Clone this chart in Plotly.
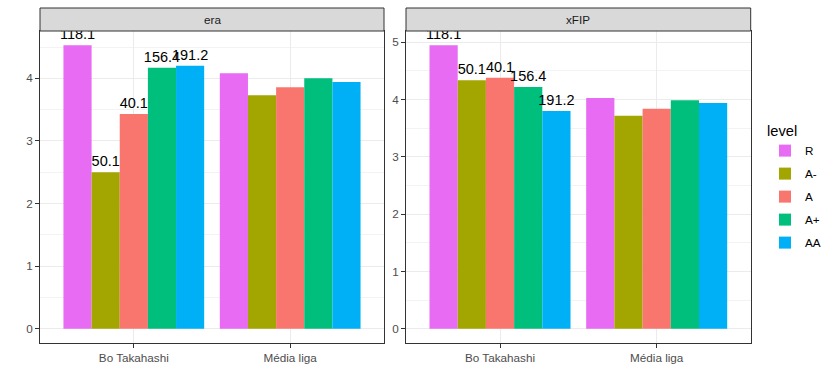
import plotly.graph_objects as go

players = ["Bo Takahashi", "Média liga"]
levels = ["R", "A-", "A", "A+", "AA"]
colors = ["#E76BF3", "#A3A500", "#F8766D", "#00BF7D", "#00B0F6"]
era_bo = [4.53, 2.50, 3.43, 4.17, 4.20]
era_liga = [4.08, 3.73, 3.86, 4.00, 3.94]
xfip_bo = [4.95, 4.34, 4.38, 4.22, 3.80]
xfip_liga = [4.03, 3.72, 3.84, 3.99, 3.94]
ip_bo = [118.1, 50.1, 40.1, 156.4, 191.2]
panels = ["era", "xFIP"]

W, H = 834, 388
FONT = "Liberation Sans, Arial, sans-serif"
fig = go.Figure()

for i, lv in enumerate(levels):
    for p, (bo, liga) in enumerate([(era_bo, era_liga), (xfip_bo, xfip_liga)]):
        fig.add_trace(go.Bar(
            x=players, y=[bo[i], liga[i]],
            name=lv, legendgroup=lv, showlegend=(p == 0),
            marker=dict(color=colors[i], line=dict(width=0)),
            text=[f"{ip_bo[i]:.1f}", ""], textposition="outside",
            textfont=dict(color="black", size=14.5, family=FONT),
            constraintext="none", cliponaxis=False,
            xaxis="x" if p == 0 else "x2", yaxis="y" if p == 0 else "y2",
        ))

def px(v, total):
    return v / total

xdom = [[px(40, W), px(384, W)], [px(406, W), px(750.7, W)]]
ydom = [1 - px(343, H), 1 - px(31, H)]
strip_top = 1 - px(8, H)
maxes = [max(era_bo + era_liga), max(xfip_bo + xfip_liga)]

axis_common = dict(
    showline=True, mirror=True, linecolor="#333333", linewidth=1,
    ticks="outside", ticklen=4, tickcolor="#333333", tickwidth=1,
    tickfont=dict(color="#4D4D4D", size=11.7, family=FONT),
    showgrid=True, gridcolor="#EBEBEB", gridwidth=1, zeroline=False,
)
for p in range(2):
    sx = "" if p == 0 else "2"
    fig.update_layout(**{
        f"xaxis{sx}": dict(domain=xdom[p], range=[-0.6, 1.6], type="category",
                           anchor=f"y{sx}", **axis_common),
        f"yaxis{sx}": dict(domain=ydom, anchor=f"x{sx}",
                           range=[-0.05 * maxes[p], 1.05 * maxes[p]], dtick=1,
                           minor=dict(dtick=0.5, showgrid=True, gridcolor="#F3F3F3", gridwidth=0.6),
                           **axis_common),
    })
    fig.add_shape(type="rect", xref="paper", yref="paper",
                  x0=xdom[p][0], x1=xdom[p][1], y0=ydom[1], y1=strip_top,
                  fillcolor="#D9D9D9", line=dict(color="#333333", width=1))
    fig.add_annotation(text=panels[p], xref="paper", yref="paper",
                       x=(xdom[p][0] + xdom[p][1]) / 2, y=(ydom[1] + strip_top) / 2,
                       xanchor="center", yanchor="middle",
                       showarrow=False, font=dict(color="#1A1A1A", size=11.7, family=FONT))

fig.update_layout(
    width=W, height=H, margin=dict(l=0, r=0, t=0, b=0),
    paper_bgcolor="white", plot_bgcolor="white",
    barmode="group", bargap=0.1, bargroupgap=0,
    font=dict(family=FONT),
    legend=dict(x=px(765, W), y=1 - px(117, H), xanchor="left", yanchor="top",
                title=dict(text="level", font=dict(size=14.7, color="black", family=FONT)),
                font=dict(size=11.7, color="black", family=FONT),
                tracegroupgap=4),
)

fig.write_html("out.html", config={"displayModeBar": False},
               post_script="document.body.style.margin='0';")
